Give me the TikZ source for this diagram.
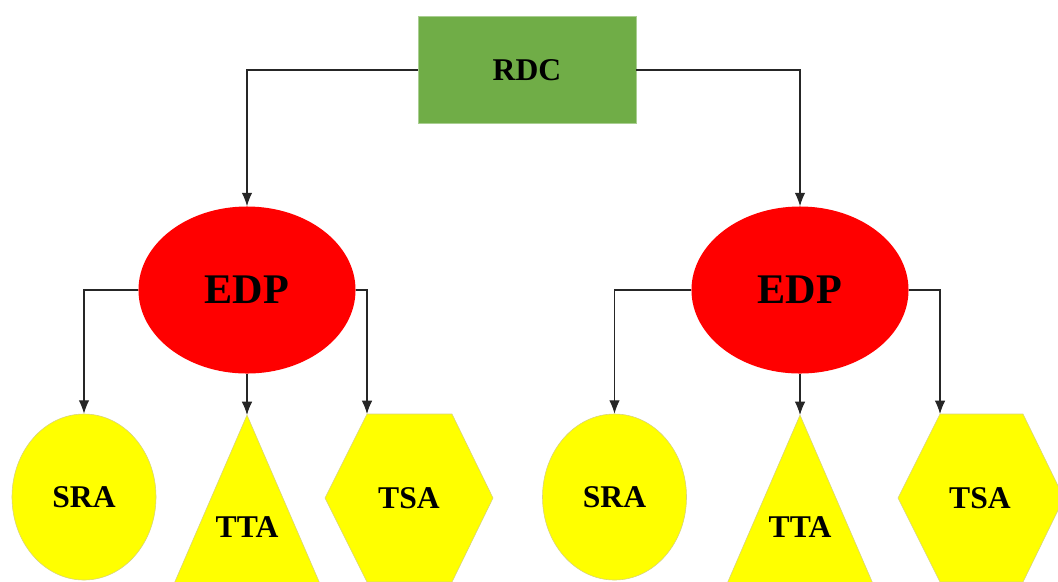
\documentclass[tikz,border=0pt]{standalone}
\usepackage{fontspec}
\setmainfont{Liberation Serif}
\usetikzlibrary{positioning,arrows,arrows.meta,calc,shapes.geometric}

\definecolor{rdcgreen}{RGB}{112,173,71}
\definecolor{edpred}{RGB}{255,0,0}
\definecolor{leafyellow}{RGB}{255,255,0}

\begin{document}
\begin{tikzpicture}[>={Latex[length=9.5pt,width=7.5pt]}, x=0.025cm, y=-0.025cm,
	link/.style={draw=black!85, line width=0.8pt, ->},
	leaf/.style={fill=leafyellow, draw=yellow!70!black!60, line width=0.4pt},
	big/.style={font=\bfseries\fontsize{30}{30}\selectfont},
	small/.style={font=\bfseries\fontsize{22.5}{22.5}\selectfont}]
	\useasboundingbox (0,0) rectangle (1058,581);

	\node[fill=rdcgreen, draw=rdcgreen!60!white, small,
		  minimum width=5.45cm, minimum height=2.675cm] 
		  (RDC) at (527,70) {RDC};

	\node[ellipse, fill=edpred, big, inner sep=0pt,
		  minimum width=5.425cm, minimum height=4.175cm] 
		  (EDP1) at (247,290) {EDP};
	\node[ellipse, fill=edpred, big, inner sep=0pt,
		  minimum width=5.425cm, minimum height=4.175cm] 
		  (EDP2) at (800,290) {EDP};

	\node[ellipse, leaf, small, inner sep=0pt,
		  minimum width=3.6cm, minimum height=4.15cm] 
		  (SRA1) at (84,497) {SRA};
	\node[ellipse, leaf, small, inner sep=0pt,
		  minimum width=3.6cm, minimum height=4.15cm] 
		  (SRA2) at (614.5,497) {SRA};

	\path[leaf] (247,415) -- (167,600) -- (327,600) -- cycle;
	\coordinate (TTA1) at (247,415);
	\node[small] (TTA1text) at (247,527) {TTA};
	\path[leaf] (800,415) -- (720,600) -- (880,600) -- cycle;
	\coordinate (TTA2) at (800,415);
	\node[small] (TTA2text) at (800,527) {TTA};

	\path[leaf] (367,414) -- (452,414) -- (493,498) -- (452,582) 
		  -- (367,582) -- (325,498) -- cycle;
	\coordinate (TSA1) at (367,414);
	\node[small] (TSA1text) at (409,498) {TSA};
	\path[leaf] (940,414) -- (1023,414) -- (1064,498) -- (1023,582) 
		  -- (940,582) -- (898,498) -- cycle;
	\coordinate (TSA2) at (940,414);
	\node[small] (TSA2text) at (980,498) {TSA};

	\draw[link] (RDC.west) -| (EDP1.north);
	\draw[link] (RDC.east) -| (EDP2.north);
	\draw[link] (EDP1.west) -| (SRA1.north);
	\draw[link] (EDP1.south) -- (TTA1);
	\draw[link] (EDP1.east) -| (TSA1);
	\draw[link] (EDP2.west) -| (SRA2.north);
	\draw[link] (EDP2.south) -- (TTA2);
	\draw[link] (EDP2.east) -| (TSA2);
\end{tikzpicture}
\end{document}
